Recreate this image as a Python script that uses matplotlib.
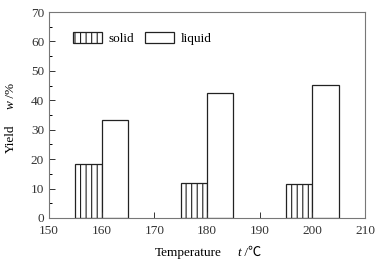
import matplotlib
matplotlib.use("Agg")
import matplotlib.pyplot as plt
import numpy as np

plt.rcParams['font.family'] = ['Liberation Serif', 'Noto Sans CJK SC', 'DejaVu Sans']
plt.rcParams['hatch.color'] = '#888888'
plt.rcParams['hatch.linewidth'] = 0.8

temperatures = [160, 180, 200]
solid = [18.5, 11.8, 11.5]
liquid = [33.2, 42.5, 45.2]
labels = ['solid', 'liquid']

fig = plt.figure(figsize=(3.86, 2.61), dpi=100)
ax = fig.add_axes([0.127, 0.165, 0.819, 0.789])

w = 5
t = np.array(temperatures)
ax.bar(t - w / 2, solid, width=w, facecolor='white', edgecolor='#222222',
       hatch='|||', linewidth=0.9, label=labels[0])
ax.bar(t + w / 2, liquid, width=w, facecolor='white', edgecolor='#222222',
       linewidth=0.9, label=labels[1])

ax.set_xlim(150, 210)
ax.set_ylim(0, 70)
ax.set_xticks(np.arange(150, 211, 10))
ax.set_yticks(np.arange(0, 71, 10))
ax.set_yticks(np.arange(5, 70, 10), minor=True)
ax.tick_params(direction='in', labelsize=9.5, length=4, width=0.7, colors='#333333')
ax.tick_params(axis='x', pad=5)
ax.tick_params(which='minor', direction='in', length=2.5, width=0.7)
for s in ax.spines.values():
    s.set_color('#777777')
    s.set_linewidth(0.8)

fs = 9.5
# x label: "Temperature    t /℃"
t1 = fig.text(155 / 386, 1 - 253 / 261, 'Temperature', fontsize=fs, ha='left', va='center')
t2 = ax.annotate('t', xy=(1, 0), xycoords=t1, xytext=(11, 0), textcoords='offset points',
                 fontsize=fs, style='italic', ha='left', va='bottom')
t3 = ax.annotate(' /℃', xy=(1, 0), xycoords=t2, fontsize=fs, ha='left', va='bottom')

# y label: "Yield    w /%"
y1 = fig.text(11 / 386, 1 - 139 / 261, 'Yield', fontsize=fs, rotation=90, ha='center', va='center')
y2 = ax.annotate('w', xy=(0.5, 1), xycoords=y1, xytext=(0, 11), textcoords='offset points',
                 fontsize=fs, style='italic', rotation=90, ha='center', va='bottom')
y3 = ax.annotate(' /%', xy=(0.5, 1), xycoords=y2, fontsize=fs, rotation=90,
                 ha='center', va='bottom')

ax.legend(loc='upper left', bbox_to_anchor=(0.06, 0.93), ncol=2, frameon=False,
          fontsize=fs, handlelength=2.2, handleheight=0.9, columnspacing=0.8,
          handletextpad=0.5, borderaxespad=0)

fig.savefig('out.png', dpi=100)
